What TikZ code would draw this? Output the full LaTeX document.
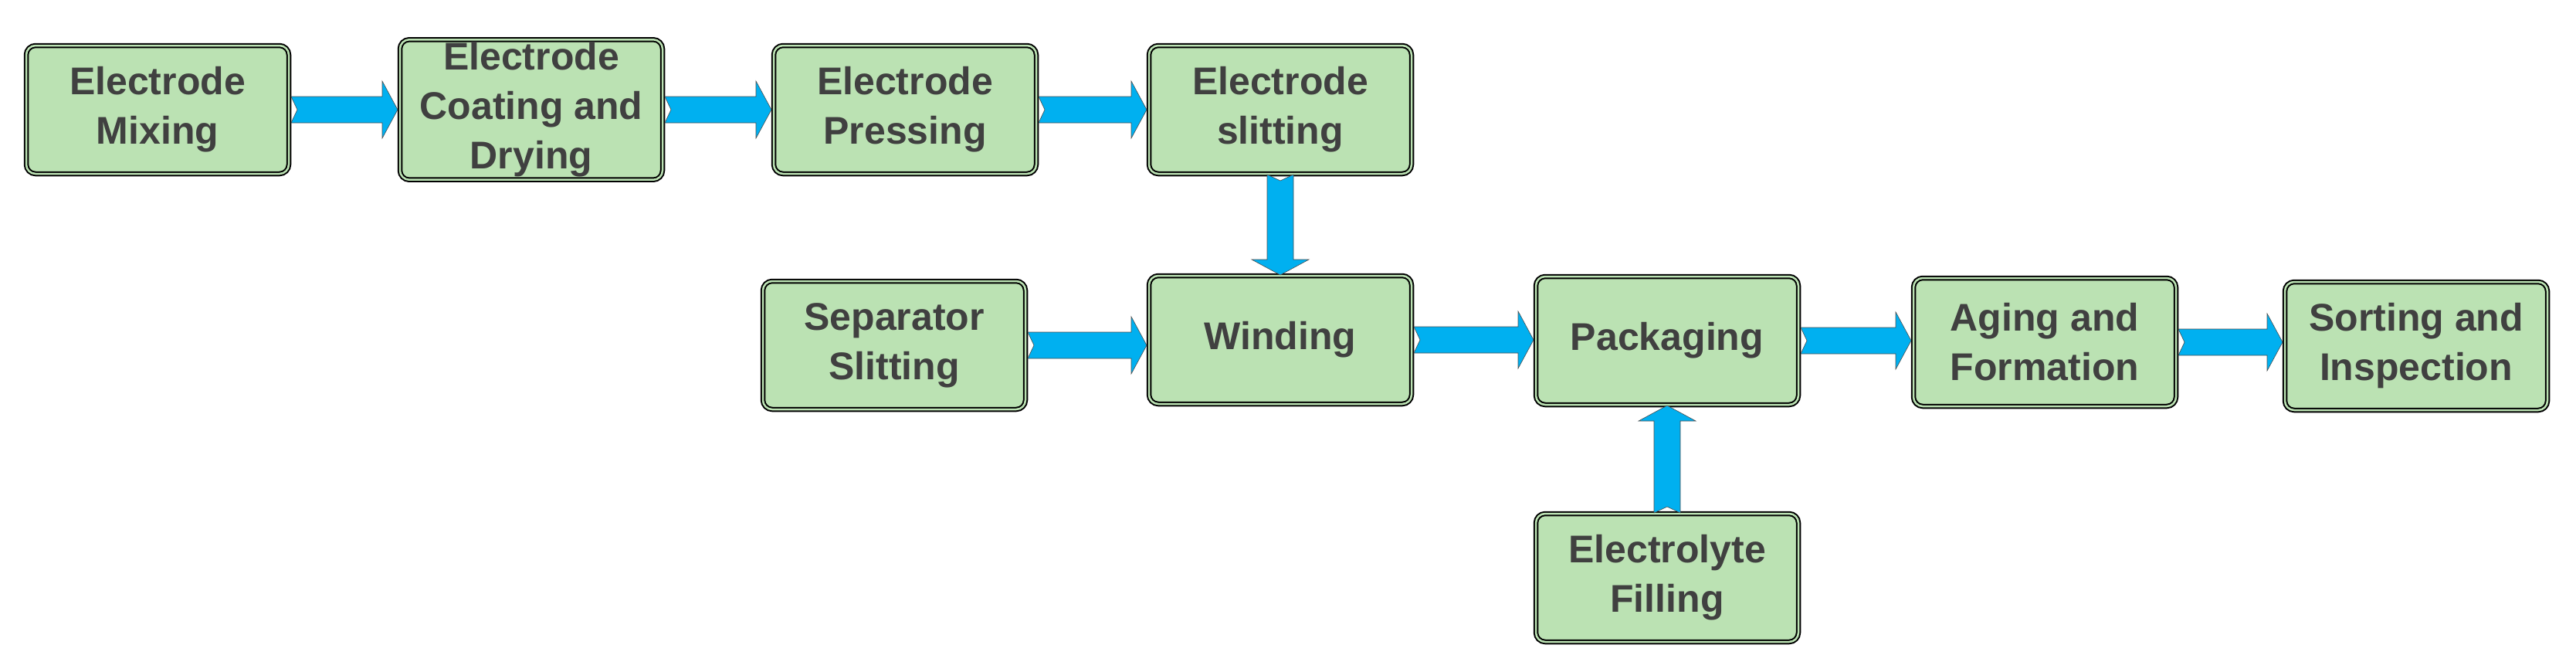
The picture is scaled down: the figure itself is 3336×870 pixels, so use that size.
\documentclass[tikz,border=0pt]{standalone}
\usepackage{fontspec}
\setmainfont{Liberation Sans}
\usetikzlibrary{calc}
\definecolor{boxg}{HTML}{BBE2B3}
\definecolor{arrc}{HTML}{00B0F0}
\definecolor{txt}{HTML}{404040}
\begin{document}
\begin{tikzpicture}[x=1pt,y=-1pt,
  box/.style={draw=black,line width=2pt,double=boxg,double distance=2.5pt,fill=boxg,rounded corners=12pt,
    minimum width=340pt,minimum height=166pt,align=center,text=txt,
    font=\fontsize{50}{64}\selectfont\bfseries},
  arr/.style={fill=arrc,draw=black!70,line width=0.6pt}]
\useasboundingbox (0,0) rectangle (3336,870);
\node[box] (a) at (204,142) {Electrode\\Mixing};
\node[box] (b) at (688,142) {Electrode\\Coating and\\Drying};
\node[box] (c) at (1172,142) {Electrode\\Pressing};
\node[box] (d) at (1658,142) {Electrode\\slitting};
\node[box] (e) at (1158,447) {Separator\\Slitting};
\node[box] (f) at (1658,440) {Winding};
\node[box] (g) at (2159,441) {Packaging};
\node[box] (h) at (2648,443) {Aging and\\Formation};
\node[box] (i) at (3129,448) {Sorting and\\Inspection};
\node[box] (j) at (2159,748) {Electrolyte\\Filling};
\newcommand\harr[2]{\draw[arr] let \p1=($(#1.east)+(2,0)$), \p2=($(#2.west)+(-2,0)$) in
  (\x1,\y1-17) -- (\x2-20,\y1-17) -- (\x2-20,\y1-37) -- (\x2,\y1) -- (\x2-20,\y1+37)
  -- (\x2-20,\y1+17) -- (\x1,\y1+17) -- (\x1+8,\y1) -- cycle;}
% vertical: #3 = +1 (down on page) or -1 (up on page)
\newcommand\varr[3]{\draw[arr] let \p1=(#1), \p2=(#2), \n1={#3*20}, \n2={#3*8} in
  (\x1-17,\y1) -- (\x1-17,\y2+\n1) -- (\x1-37,\y2+\n1) -- (\x1,\y2)
  -- (\x1+37,\y2+\n1) -- (\x1+17,\y2+\n1) -- (\x1+17,\y1) -- (\x1,\y1-\n2) -- cycle;}
\harr{a}{b}
\harr{b}{c}
\harr{c}{d}
\harr{e}{f}
\harr{f}{g}
\harr{g}{h}
\harr{h}{i}
\varr{d.south}{f.north}{1}
\varr{j.north}{g.south}{-1}
\end{tikzpicture}
\end{document}
